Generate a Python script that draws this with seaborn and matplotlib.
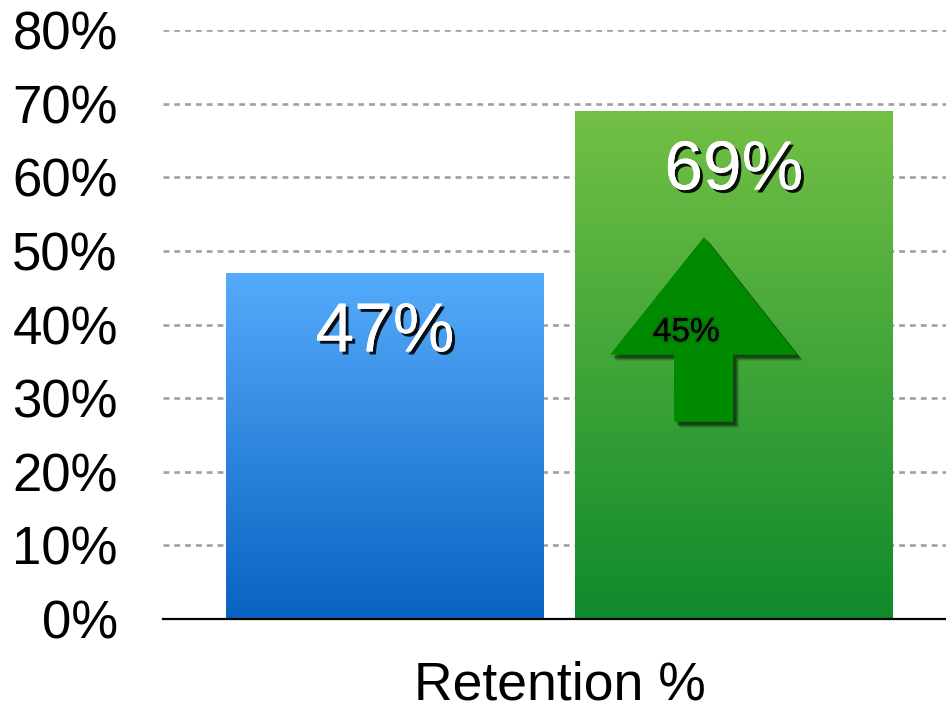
import numpy as np
import pandas as pd
import matplotlib
matplotlib.use("Agg")
import matplotlib.pyplot as plt
import matplotlib.patheffects as pe
from matplotlib.colors import LinearSegmentedColormap
from matplotlib.patches import Polygon
from matplotlib.transforms import offset_copy
import seaborn as sns

# Data
category = ["Retention %"]
groups = ["Before", "After"]
retention = [47, 69]
increase_label = "45%"
y_ticks = [0, 10, 20, 30, 40, 50, 60, 70, 80]
y_tick_labels = [f"{t}%" for t in y_ticks]

# Gradient colours per bar (bottom, top)
gradients = [("#0a62c2", "#55abfa"), ("#0f8a2c", "#73c045")]

sns.set_theme(style="white")
plt.rcParams["font.family"] = ["Liberation Sans", "DejaVu Sans"]

df = pd.DataFrame({"cat": category * len(groups), "group": groups, "value": retention})

fig = plt.figure(figsize=(9.46, 7.10), dpi=100)
ax = fig.add_axes([0.1723, 0.128, 0.8277, 0.8297])

sns.barplot(data=df, x="cat", y="value", hue="group", ax=ax,
            palette=["#4a9ae8", "#5aa83a"], width=0.8, gap=0.0888,
            legend=False, saturation=1, zorder=2)

# Replace flat fills with vertical gradients clipped to each bar
bars = [p for p in ax.patches]
for patch, (c_bot, c_top) in zip(bars, gradients):
    x0, y0 = patch.get_x(), patch.get_y()
    w, h = patch.get_width(), patch.get_height()
    cmap = LinearSegmentedColormap.from_list("g", [c_bot, c_top])
    grad = np.linspace(0, 1, 256).reshape(-1, 1)
    im = ax.imshow(grad, cmap=cmap, origin="lower", aspect="auto",
                   extent=[x0, x0 + w, y0, y0 + h], zorder=2.5,
                   interpolation="bicubic")
    im.set_clip_path(patch)
    patch.set_facecolor("none")
    patch.set_edgecolor("none")

ax.set_xlim(-0.4547, 0.4432)
ax.set_ylim(0, 80)
ax.set_yticks(y_ticks)
ax.set_yticklabels(y_tick_labels)
ax.set_xlabel("")
ax.set_ylabel("")

# Dashed horizontal gridlines
for t in y_ticks[1:]:
    ax.axhline(t, color="#a0a0a0", lw=1.9, ls=(0, (2.2, 1.9)), zorder=1)

for s in ["top", "right", "left"]:
    ax.spines[s].set_visible(False)
ax.spines["bottom"].set_color("black")
ax.spines["bottom"].set_linewidth(1.6)
ax.spines["bottom"].set_zorder(5)

ax.tick_params(axis="y", length=0, pad=32.5, labelsize=38, labelcolor="black")
ax.tick_params(axis="x", length=0, pad=30, labelsize=38.5, labelcolor="black")

# Value labels inside the bars
shadow = [pe.withSimplePatchShadow(offset=(2.2, -2.2), shadow_rgbFace="black", alpha=0.9),
          pe.Normal()]
for patch, v in zip(bars, retention):
    cx = patch.get_x() + patch.get_width() / 2
    ax.text(cx, v - 8.2, f"{v}%", ha="center", va="center", fontsize=50,
            color="white", zorder=6, path_effects=shadow)

# Up arrow showing the relative increase
arrow_pts = np.array([
    [0.1657, 51.9],
    [0.2724, 35.9],
    [0.1990, 35.9],
    [0.1990, 26.8],
    [0.1313, 26.8],
    [0.1313, 35.9],
    [0.0579, 35.9],
])
for dx, dy, a in [(6, -6, 0.15), (5, -5, 0.25), (4, -4, 0.35), (3, -3, 0.45)]:
    tr = offset_copy(ax.transData, fig=fig, x=dx, y=dy, units="dots")
    ax.add_patch(Polygon(arrow_pts, closed=True, facecolor="#0a2a0a",
                         edgecolor="none", alpha=a, transform=tr, zorder=3))
ax.add_patch(Polygon(arrow_pts, closed=True, facecolor="#008a00",
                     edgecolor="none", zorder=4))
ax.text(0.1455, 38.9, increase_label, ha="center", va="center", fontsize=24,
        color="black", zorder=6,
        path_effects=[pe.withStroke(linewidth=3, foreground="#1a4a1a", alpha=0.35),
                      pe.Normal()])

fig.savefig("out.png", dpi=100)
